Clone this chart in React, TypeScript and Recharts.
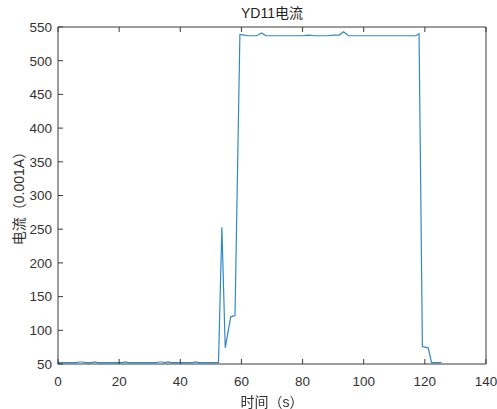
import { LineChart, Line, XAxis, YAxis } from "recharts";

// 时间 (s)
const times = [
    0, 1, 2, 3, 4, 5, 6, 7, 8, 9, 10, 11, 12, 13, 14, 15, 16, 17, 18, 19,
    20, 21, 22, 23, 24, 25, 26, 27, 28, 29, 30, 31, 32, 33, 34, 35, 36, 37, 38, 39,
    40, 41, 42, 43, 44, 45, 46, 47, 48, 49, 50, 51, 52.5,
    53.6, 54.7, 56.5, 57.9, 59.5,
    61, 62, 63, 64, 65, 66.6, 68, 70, 72, 74, 76, 78, 80, 82, 84, 86, 88, 90, 92, 93.4,
    95, 97, 99, 101, 103, 105, 107, 109, 111, 113, 115, 117, 118.1,
    119.2, 121.1, 122.2, 123, 124, 125.4,
];

// 电流 (0.001A)
const current = [
    52, 52, 52, 52, 52, 52, 52, 53, 53, 52, 52, 52, 53, 52, 52, 52, 52, 52, 52, 52,
    52, 52, 53, 52, 52, 52, 52, 52, 52, 52, 52, 52, 52, 53, 53, 52, 53, 52, 52, 52,
    52, 52, 52, 52, 52, 53, 52, 52, 52, 52, 52, 52, 52,
    253, 74, 120, 122, 539,
    538, 537, 537, 537, 537, 541, 537, 537, 537, 537, 537, 537, 537, 538, 537, 537, 537, 538, 538, 543,
    537, 537, 537, 537, 537, 537, 537, 537, 537, 537, 537, 537, 540,
    76, 74, 52, 52, 52, 52,
];

const xTicks = [0, 20, 40, 60, 80, 100, 120, 140];
const yTicks = [50, 100, 150, 200, 250, 300, 350, 400, 450, 500, 550];

const data = times.map((t, i) => ({ t, v: current[i] }));

const AXIS = "#3a3a3a";
const TXT = "#333";
const FONT = "'Liberation Sans', Arial, 'Noto Sans CJK SC', sans-serif";

// ticks MATLAB style: pointing into the box
const BottomTick = ({ x, y, payload }: any) => (
    <g>
        <line x1={x} x2={x} y1={y} y2={y - 5} stroke={AXIS} />
        <text x={x} y={y + 22} textAnchor="middle" fill={TXT} fontSize={13.5} fontFamily={FONT}>
            {payload.value}
        </text>
    </g>
);

const TopTick = ({ x, y }: any) => (
    <line x1={x} x2={x} y1={y} y2={y + 5} stroke={AXIS} />
);

const LeftTick = ({ x, y, payload }: any) => (
    <g>
        <line x1={x} x2={x + 5} y1={y} y2={y} stroke={AXIS} />
        <text x={x - 6} y={y} dy="0.36em" textAnchor="end" fill={TXT} fontSize={13.5} fontFamily={FONT}>
            {payload.value}
        </text>
    </g>
);

const RightTick = ({ x, y }: any) => (
    <line x1={x} x2={x - 5} y1={y} y2={y} stroke={AXIS} />
);

export default function App() {
    return (
        <div style={{ position: "fixed", left: 0, top: 0, width: 497, height: 409, background: "#fff", fontFamily: FONT }}>
            <LineChart
                width={497}
                height={409}
                data={data}
                margin={{ top: 26, right: 10, bottom: 0, left: 0 }}
            >
                <XAxis
                    xAxisId="b"
                    dataKey="t"
                    type="number"
                    domain={[0, 140]}
                    ticks={xTicks}
                    height={45}
                    tickSize={0}
                    tickMargin={0}
                    tickLine={false}
                    stroke={AXIS}
                    tick={<BottomTick />}
                    interval={0}
                />
                <XAxis
                    xAxisId="top"
                    dataKey="t"
                    type="number"
                    orientation="top"
                    domain={[0, 140]}
                    ticks={xTicks}
                    height={1}
                    tickSize={0}
                    tickMargin={0}
                    tickLine={false}
                    stroke={AXIS}
                    tick={<TopTick />}
                    interval={0}
                />
                <YAxis
                    yAxisId="l"
                    type="number"
                    domain={[50, 550]}
                    ticks={yTicks}
                    width={58}
                    tickSize={0}
                    tickMargin={0}
                    tickLine={false}
                    stroke={AXIS}
                    tick={<LeftTick />}
                    interval={0}
                />
                <YAxis
                    yAxisId="r"
                    orientation="right"
                    type="number"
                    domain={[50, 550]}
                    ticks={yTicks}
                    width={1}
                    tickSize={0}
                    tickMargin={0}
                    tickLine={false}
                    stroke={AXIS}
                    tick={<RightTick />}
                    interval={0}
                />
                <Line
                    xAxisId="b"
                    yAxisId="l"
                    type="linear"
                    dataKey="v"
                    stroke="#3189c2"
                    strokeWidth={1.2}
                    dot={false}
                    isAnimationActive={false}
                />
            </LineChart>
            <div style={{ position: "absolute", left: 58, width: 428, top: 2, textAlign: "center", fontSize: 14, color: "#222" }}>
                YD11电流
            </div>
            <div style={{ position: "absolute", left: 58, width: 428, top: 391, textAlign: "center", fontSize: 14, color: TXT }}>
                时间（s）
            </div>
            <div
                style={{
                    position: "absolute",
                    left: 18,
                    top: 195,
                    transform: "translate(-50%, -50%) rotate(-90deg)",
                    whiteSpace: "nowrap",
                    fontSize: 14,
                    color: TXT,
                }}
            >
                电流（0.001A）
            </div>
        </div>
    );
}
